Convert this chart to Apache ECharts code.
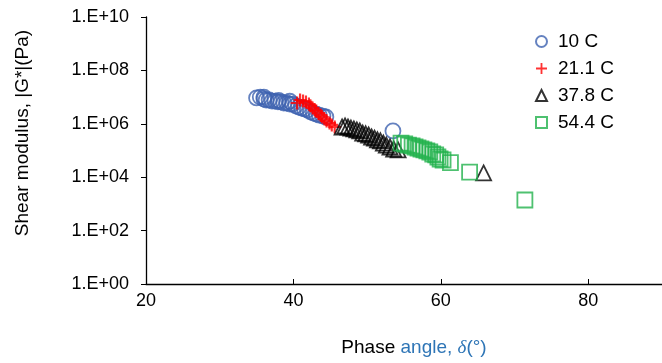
<!DOCTYPE html>
<html>
<head>
<meta charset="utf-8">
<script src="https://cdn.jsdelivr.net/npm/echarts@6/dist/echarts.min.js"></script>
<style>
    html, body { margin: 0; padding: 0; background: #fff; }
    #chart { width: 662px; height: 363px; }
</style>
</head>
<body>
<div id="chart"></div>
<script>
    // phase angle (deg), |G*| (Pa)
    var seriesNames = ['10 C', '21.1 C', '37.8 C', '54.4 C'];
    var yTicks = [0, 2, 4, 6, 8, 10]; // exponents of 10

    var data10 = [
        [35.0, 9.3e6], [35.5, 1.0e7], [36.0, 8.5e6], [36.0, 1.0e7], [36.3, 7.8e6], [36.7, 7.8e6],
        [37.1, 7.1e6], [37.5, 7.1e6], [37.9, 6.6e6], [38.0, 7.5e6], [38.3, 6.6e6], [38.7, 6.0e6],
        [39.1, 6.0e6], [39.5, 5.5e6], [39.5, 7.0e6], [39.9, 5.5e6], [40.3, 4.7e6], [40.7, 4.2e6],
        [41.1, 3.9e6], [41.5, 3.6e6], [41.9, 3.3e6], [42.3, 2.8e6], [42.7, 2.5e6], [43.1, 2.3e6],
        [43.5, 2.1e6], [44.0, 1.95e6], [44.4, 1.8e6], [53.5, 5.4e5]
    ];
    var data21 = [
        [40.5, 6.0e6], [40.9, 7.8e6], [41.3, 7.1e6], [41.7, 6.6e6], [42.1, 5.5e6], [42.3, 4.7e6],
        [42.6, 3.9e6], [42.9, 3.3e6], [43.1, 3.0e6], [43.4, 2.5e6], [43.7, 2.1e6], [43.9, 1.8e6],
        [44.2, 1.5e6], [44.5, 1.27e6], [44.9, 1.07e6], [45.2, 9.1e5], [45.6, 7.6e5]
    ];
    var data37 = [
        [46.6, 7.6e5], [47.0, 8.3e5], [47.4, 7.6e5], [47.8, 6.9e5], [48.2, 6.4e5], [48.6, 5.9e5],
        [49.0, 5.4e5], [49.4, 4.5e5], [49.8, 4.2e5], [50.2, 3.8e5], [50.6, 3.2e5], [51.0, 2.9e5],
        [51.4, 2.5e5], [51.8, 2.3e5], [52.2, 1.9e5], [52.6, 1.6e5], [53.1, 1.35e5], [53.6, 1.14e5],
        [54.2, 1.05e5], [65.8, 1.44e4]
    ];
    var data54 = [
        [54.6, 1.9e5], [55.1, 1.75e5], [55.6, 1.6e5], [56.1, 1.48e5], [56.5, 1.35e5], [56.9, 1.24e5],
        [57.3, 1.14e5], [57.7, 1.05e5], [58.1, 9.6e4], [58.5, 8.8e4], [58.9, 7.4e4], [59.3, 6.8e4],
        [59.6, 5.7e4], [59.9, 4.8e4], [60.3, 4.4e4], [61.3, 3.5e4], [63.9, 1.56e4], [71.4, 1.4e3]
    ];

    var colors = ['#3f63b0', '#ff0000', '#000000', '#22b14c'];
    var symbols = [
        'circle',
        'path://M5,0h2v5h5v2h-5v5h-2v-5h-5v-2h5z',
        'triangle',
        'rect'
    ];
    var sizes = [15, 13, 15, 15];

    function toLog(arr) {
        return arr.map(function (p) { return [p[0], Math.log10(p[1])]; });
    }

    var allData = [data10, data21, data37, data54];
    var series = allData.map(function (d, i) {
        var hollow = i !== 1;
        return {
            name: seriesNames[i],
            type: 'scatter',
            data: toLog(d),
            symbol: symbols[i],
            symbolSize: sizes[i],
            itemStyle: hollow ? {
                color: 'rgba(0,0,0,0)',
                borderColor: colors[i],
                borderWidth: 1.8
            } : {
                color: colors[i]
            }
        };
    });

    var myChart = echarts.init(document.getElementById('chart'));
    myChart.setOption({
        animation: false,
        textStyle: { fontFamily: 'Liberation Sans' },
        grid: { left: 146, top: 17, bottom: 79, right: -11 },
        legend: {
            orient: 'vertical',
            left: 535,
            top: 32,
            padding: 0,
            itemWidth: 11,
            itemHeight: 11,
            itemGap: 8,
            textStyle: { fontSize: 19, lineHeight: 19, color: '#000', fontFamily: 'Liberation Sans', padding: [0, 0, 0, 6] },
            data: seriesNames
        },
        graphic: [
            {
                type: 'text',
                x: 23,
                y: 133,
                rotation: Math.PI / 2,
                style: {
                    text: 'Shear modulus, |G*|(Pa)',
                    fontSize: 19,
                    fontFamily: 'Liberation Sans',
                    fill: '#000',
                    align: 'center',
                    verticalAlign: 'middle'
                }
            },
            {
                type: 'text',
                x: 414,
                y: 348,
                style: {
                    text: '{a|Phase }{b|angle, }{c|δ}{b|(°)}',
                    align: 'center',
                    verticalAlign: 'middle',
                    rich: {
                        a: { fontSize: 19, fill: '#000', fontFamily: 'Liberation Sans' },
                        b: { fontSize: 19, fill: '#2e75b6', fontFamily: 'Liberation Sans' },
                        c: { fontSize: 19, fill: '#2e75b6', fontFamily: 'Liberation Serif', fontStyle: 'italic' }
                    }
                }
            }
        ],
        xAxis: {
            type: 'value',
            min: 20,
            max: 90,
            interval: 20,
            axisLine: { show: true, lineStyle: { color: '#000', width: 1.3 } },
            axisTick: { show: true, inside: true, length: 5, lineStyle: { color: '#000' } },
            axisLabel: {
                fontSize: 18, color: '#000', margin: 8,
                showMaxLabel: false,
                formatter: function (v) { return v % 20 === 0 ? String(v) : ''; }
            },
            splitLine: { show: false }
        },
        yAxis: {
            type: 'value',
            min: 0,
            max: 10,
            interval: 2,
            axisLine: { show: true, lineStyle: { color: '#000', width: 1.3 } },
            axisTick: { show: true, inside: false, length: 5, lineStyle: { color: '#000' } },
            axisLabel: {
                fontSize: 18, color: '#000', margin: 17,
                formatter: function (v) {
                    if (yTicks.indexOf(v) < 0) return '';
                    return '1.E+' + (v < 10 ? '0' + v : v);
                }
            },
            splitLine: { show: false }
        },
        series: series
    });
</script>
</body>
</html>
